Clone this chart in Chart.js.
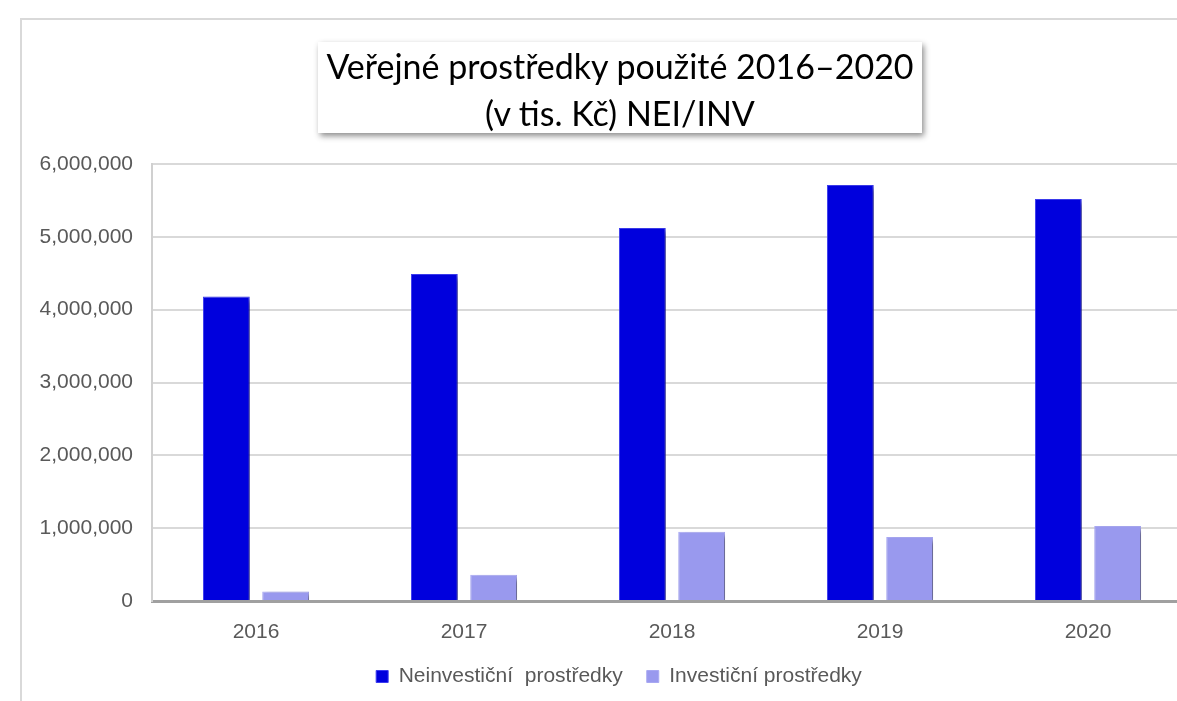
<!DOCTYPE html>
<html>
<head>
<meta charset="utf-8">
<script src="https://cdn.jsdelivr.net/npm/chart.js@4/dist/chart.umd.min.js"></script>
<style>
  body { margin: 0; width: 1177px; height: 701px; overflow: hidden; background: #fff; position: relative; }
  #frame { position: absolute; left: 20px; top: 18px; width: 1300px; height: 800px; border: 2px solid #d9d9d9; }
  #wrap { position: absolute; left: 0; top: 0; width: 1240px; height: 701px; }
  #title {
    position: absolute; left: 318px; top: 42px; width: 604px; height: 91px;
    background: #fff; box-shadow: 2px 3px 6px rgba(0,0,0,0.45);
    font-family: Lato, "Open Sans", sans-serif; font-size: 34px; line-height: 47px;
    text-align: center; color: #000; padding-top: 0; box-sizing: border-box;
  }
</style>
</head>
<body>
<div id="frame"></div>
<div id="wrap"><canvas id="chart"></canvas></div>
<div id="title">Veřejné prostředky použité 2016–2020<br>(v tis. Kč) NEI/INV</div>
<script>
const years = ["2016", "2017", "2018", "2019", "2020"];
const neinvesticni = [4180000, 4490000, 5120000, 5710000, 5520000];
const investicni = [130000, 360000, 950000, 880000, 1030000];
const yTicks = [0, 1000000, 2000000, 3000000, 4000000, 5000000, 6000000];

// drop shadow under the bars
const barShadow = {
  id: "barShadow",
  beforeDatasetsDraw(chart) {
    const ctx = chart.ctx;
    ctx.save();
    ctx.shadowColor = "rgba(0,0,0,0.45)";
    ctx.shadowBlur = 5;
    ctx.shadowOffsetX = 4;
    ctx.shadowOffsetY = 3;
  },
  afterDatasetsDraw(chart) {
    chart.ctx.restore();
  },
};

// legend sits a bit right of centre in the original
const legendShift = {
  id: "legendShift",
  afterLayout(chart) {
    chart.legend.left += 12;
    chart.legend.right += 12;
  },
};

const ctx = document.getElementById("chart").getContext("2d");
new Chart(ctx, {
  type: "bar",
  plugins: [barShadow, legendShift],
  data: {
    labels: years,
    datasets: [
      {
        label: "Neinvestiční  prostředky",
        data: neinvesticni,
        backgroundColor: "#0000dd",
        borderColor: "#3c3cf0",
        borderWidth: 1,
        categoryPercentage: 0.57,
        barPercentage: 0.79,
      },
      {
        label: "Investiční prostředky",
        data: investicni,
        backgroundColor: "#9999ee",
        borderColor: "#a8a8f2",
        borderWidth: 1,
        categoryPercentage: 0.57,
        barPercentage: 0.79,
      },
    ],
  },
  options: {
    responsive: true,
    maintainAspectRatio: false,
    animation: false,
    layout: { padding: { left: 22, right: 48, top: 164, bottom: 4 } },
    plugins: {
      tooltip: { enabled: false },
      legend: {
        position: "bottom",
        labels: {
          font: { family: "Liberation Sans, Arial, sans-serif", size: 21 },
          color: "#595959",
          boxWidth: 12,
          boxHeight: 12,
          padding: 24,
        },
      },
    },
    scales: {
      x: {
        afterFit: (scale) => { scale.height = 41; },
        grid: { display: false, drawTicks: false },
        border: { display: true, color: "#a0a0a0", width: 3 },
        ticks: {
          font: { family: "Liberation Sans, Arial, sans-serif", size: 21 },
          color: "#595959",
          padding: 19,
        },
      },
      y: {
        min: 0,
        max: 6000000,
        afterFit: (scale) => { scale.width = 130; },
        afterBuildTicks: (scale) => { scale.ticks = yTicks.map((v) => ({ value: v })); },
        grid: { color: "#d9d9d9", lineWidth: 2, drawTicks: false },
        border: { display: true, color: "#d0d0d0", width: 2 },
        ticks: {
          font: { family: "Liberation Sans, Arial, sans-serif", size: 21 },
          color: "#595959",
          padding: 19,
          callback: (v) => v.toLocaleString("en-US"),
        },
      },
    },
  },
});
</script>
</body>
</html>
